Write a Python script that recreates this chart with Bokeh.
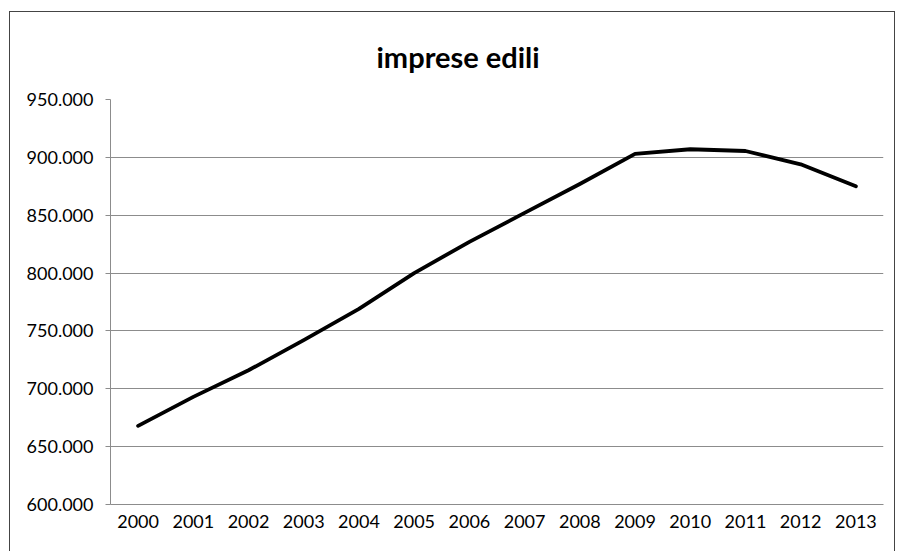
from bokeh.plotting import figure
from bokeh.models import FactorRange, Range1d, FixedTicker, CustomJSTickFormatter
from bokeh.embed import file_html
from bokeh.resources import INLINE

years = ["2000", "2001", "2002", "2003", "2004", "2005", "2006",
         "2007", "2008", "2009", "2010", "2011", "2012", "2013"]
imprese = [668000, 693000, 716000, 742000, 769000, 800000, 827000,
           852000, 877000, 903000, 907000, 905500, 894000, 875000]
y_ticks = [600000, 650000, 700000, 750000, 800000, 850000, 900000, 950000]

FONT = "Lato"

p = figure(width=886, height=540, x_range=FactorRange(*years),
           y_range=Range1d(600000, 950000),
           output_backend="svg", toolbar_location=None,
           min_border_left=100, min_border_right=13,
           min_border_top=87, min_border_bottom=48)
p.styles = {"border": "1px solid #444444", "border-bottom": "none",
            "margin-left": "9px", "margin-top": "11px"}

p.title.text = "imprese edili"
p.title.align = "left"
p.title.vertical_align = "top"
p.title.offset = 266
p.title.text_font = FONT
p.title.text_font_size = "29px"
p.title.text_font_style = "bold"
p.title.text_color = "black"
p.title.standoff = 48

p.line(x=years, y=imprese, line_color="black", line_width=3.8,
       line_join="round", line_cap="round")

p.outline_line_color = None
p.xgrid.grid_line_color = None
p.ygrid.grid_line_color = "#8c8c8c"
p.ygrid.grid_line_width = 1
p.yaxis.ticker = FixedTicker(ticks=y_ticks)
p.yaxis.formatter = CustomJSTickFormatter(code="""
return Math.round(tick).toString().replace(/\\B(?=(\\d{3})+(?!\\d))/g, ".") + "";
""")
for ax in (p.xaxis, p.yaxis):
    ax.axis_line_color = "#8c8c8c"
    ax.major_tick_line_color = "#8c8c8c"
    ax.minor_tick_line_color = None
    ax.major_label_text_font = FONT
    ax.major_label_text_font_size = "18px"
    ax.major_label_text_color = "black"
p.yaxis.major_tick_out = 5
p.yaxis.major_tick_in = 0
p.yaxis.major_label_standoff = 12
p.xaxis.major_tick_out = 0
p.xaxis.major_tick_in = 0
p.xaxis.major_label_standoff = 10

open("out.html", "w").write(file_html(p, INLINE))
